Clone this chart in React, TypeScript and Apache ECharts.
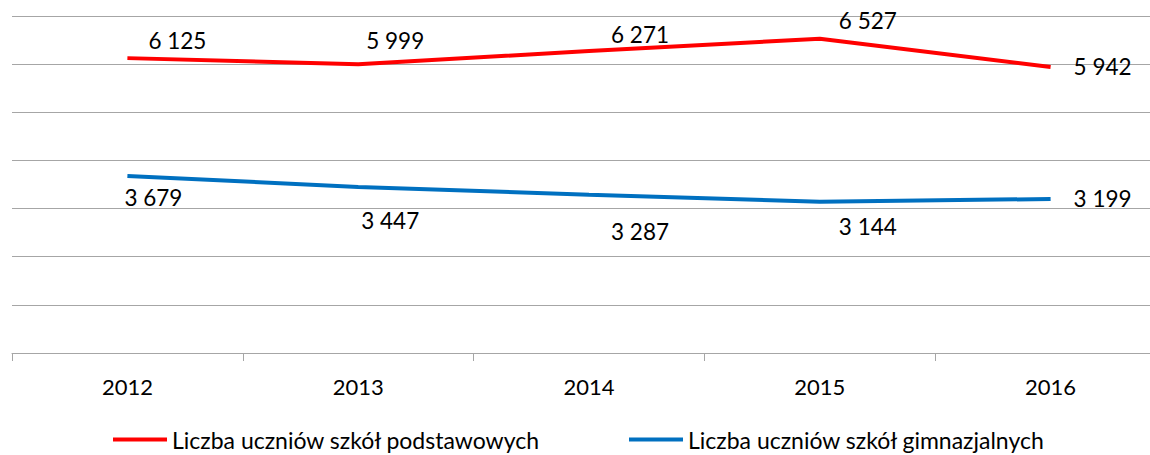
import React, { useEffect, useRef } from "react";
import * as echarts from "echarts";

const categories = ["2012", "2013", "2014", "2015", "2016"];
const primaryName = "Liczba uczniów szkół podstawowych";
const gymName = "Liczba uczniów szkół gimnazjalnych";
const primaryValues = [6125, 5999, 6271, 6527, 5942];
const gymValues = [3679, 3447, 3287, 3144, 3199];
const primaryLabelOffsets = [[50, -18], [37, -24], [51, -17], [48, -18], [52, 0]];
const gymLabelOffsets = [[26, 22], [32, 33], [51, 37], [48, 25], [52, 0]];

const fmt = (v: number) => {
  const s = String(Math.round(v));
  return s.replace(/\B(?=(\d{3})+(?!\d))/g, " ");
};

const FONT = "Lato";

export default function App() {
  const ref = useRef<HTMLDivElement>(null);
  useEffect(() => {
    document.body.style.margin = "0";
    if (!ref.current) return;
    const chart = echarts.init(ref.current, null, { renderer: "svg" });
    const mk = (vals: number[], offs: number[][]) =>
      vals.map((v, i) => ({
        value: v,
        label: { offset: offs[i] },
      }));
    const labelBase = {
      show: true,
      position: "top",
      distance: 0,
      align: "center",
      verticalAlign: "middle",
      fontFamily: FONT,
      fontSize: 22.5,
      color: "#000",
      formatter: (p: any) => fmt(p.value),
    };
    const legendBase = {
      top: 423,
      itemWidth: 54,
      itemHeight: 4,
      itemGap: 5,
      icon: "rect",
      textStyle: { fontFamily: FONT, fontSize: 23, color: "#000" },
    };
    chart.setOption({
      animation: false,
      textStyle: { fontFamily: FONT },
      grid: { left: 12, right: 0, top: 16, bottom: 102, containLabel: false },
      legend: [
        { ...legendBase, left: 108, data: [primaryName] },
        { ...legendBase, left: 624, data: [gymName] },
      ],
      xAxis: {
        type: "category",
        data: categories,
        boundaryGap: true,
        axisLine: { show: true, lineStyle: { color: "#a6a6a6", width: 1 } },
        axisTick: { show: true, length: 8, lineStyle: { color: "#a6a6a6" } },
        axisLabel: { fontFamily: FONT, fontSize: 22, color: "#000", margin: 22 },
        splitLine: { show: false },
      },
      yAxis: {
        type: "value",
        min: 0,
        max: 7000,
        interval: 1000,
        axisLabel: { show: false },
        axisLine: { show: false },
        axisTick: { show: false },
        splitLine: { show: true, lineStyle: { color: "#a6a6a6", width: 1 } },
      },
      series: [
        {
          name: primaryName,
          type: "line",
          data: mk(primaryValues, primaryLabelOffsets),
          symbol: "circle",
          symbolSize: 0,
          showSymbol: true,
          lineStyle: { color: "#ff0000", width: 4 },
          itemStyle: { color: "#ff0000" },
          label: labelBase,
        },
        {
          name: gymName,
          type: "line",
          data: mk(gymValues, gymLabelOffsets),
          symbol: "circle",
          symbolSize: 0,
          showSymbol: true,
          lineStyle: { color: "#0070c0", width: 4 },
          itemStyle: { color: "#0070c0" },
          label: labelBase,
        },
      ],
    });
    return () => chart.dispose();
  }, []);
  return (
    <div style={{ width: 1150, height: 455, overflow: "hidden", position: "relative" }}>
      <div ref={ref} style={{ width: 1166, height: 455 }} />
    </div>
  );
}
